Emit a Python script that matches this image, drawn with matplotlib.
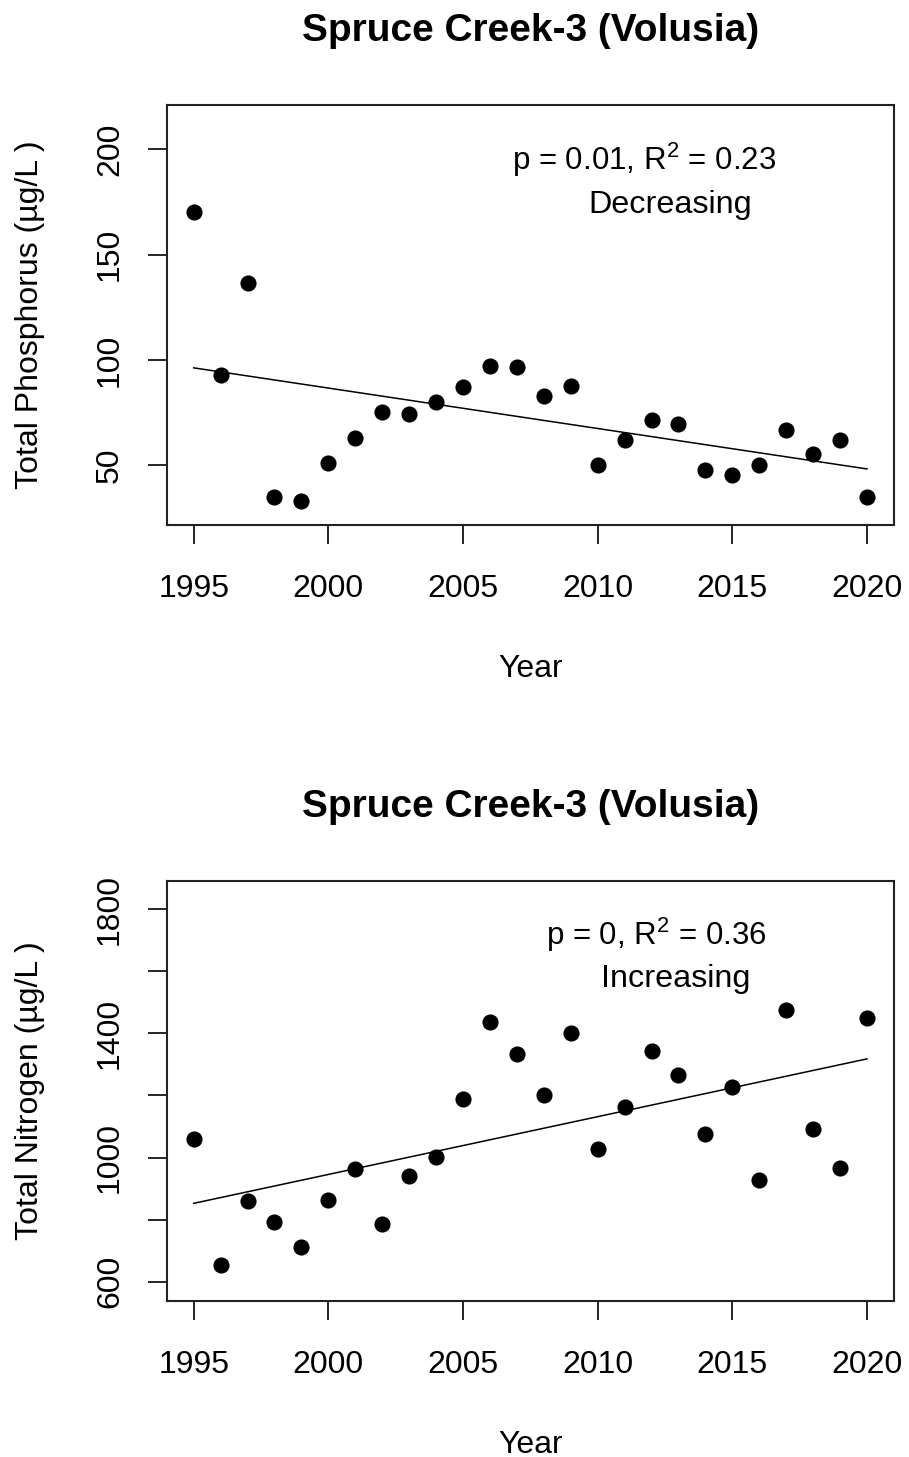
import numpy as np
import matplotlib.pyplot as plt

plt.rcParams['font.family'] = ['Liberation Sans', 'DejaVu Sans']
plt.rcParams['mathtext.fontset'] = 'custom'
plt.rcParams['mathtext.rm'] = 'Liberation Sans'

years = list(range(1995, 2021))

# total phosphorus, ug/L
tp = [170.1, 92.7, 136.6, 35.2, 33.2, 51.3, 63.0, 75.2, 74.4, 80.2,
      87.1, 97.3, 96.5, 83.1, 87.8, 50.4, 62.1, 71.6, 69.7, 47.7,
      45.6, 50.4, 66.8, 55.5, 62.1, 35.2]

# total nitrogen, ug/L
tn = [1059, 654, 861, 791, 713, 863, 962, 786, 942, 1001,
      1189, 1436, 1333, 1202, 1402, 1027, 1163, 1343, 1267, 1077,
      1227, 928, 1476, 1091, 967, 1451]

title = 'Spruce Creek-3 (Volusia)'
tp_stats = r'p = 0.01, R$^{2}$ = 0.23'
tn_stats = r'p = 0, R$^{2}$ = 0.36'

FS = 22


def draw_panel(ax, y, ylabel, yticks, ylabels, ylim, stats, trend, txt_pos):
    x = np.array(years)
    ax.scatter(x, y, s=135, color='black', zorder=3, linewidths=0)
    b, a = np.polyfit(x, y, 1)
    xl = np.array([x[0], x[-1]])
    ax.plot(xl, a + b * xl, color='black', lw=1.1)

    ax.set_xlim(1994, 2021)
    ax.set_ylim(*ylim)
    ax.set_xticks(range(1995, 2021, 5))
    ax.set_yticks(yticks)
    ax.set_yticklabels(ylabels, rotation=90, va='center')
    ax.tick_params(axis='both', length=14, width=1.2, labelsize=FS + 1)
    ax.tick_params(axis='x', pad=21)
    ax.tick_params(axis='y', pad=16)
    for s in ax.spines.values():
        s.set_linewidth(1.5)
        s.set_color('#222222')

    ax.set_title(title, fontsize=28, fontweight='bold', pad=46)
    ax.set_xlabel('Year', fontsize=FS + 1, labelpad=36)
    ax.set_ylabel(ylabel, fontsize=FS + 1, labelpad=36)

    (x1, y1), (x2, y2) = txt_pos
    ax.text(x1, y1, stats, fontsize=FS + 0.5, ha='center', va='center')
    ax.text(x2, y2, trend, fontsize=FS + 1.3, ha='center', va='center')


fig = plt.figure(figsize=(9.09, 14.57), dpi=100)
ax1 = fig.add_axes([0.1834, 0.6397, 0.800, 0.2883])
ax2 = fig.add_axes([0.1834, 0.1071, 0.800, 0.2883])

draw_panel(ax1, tp, 'Total Phosphorus (\u00b5g/L )', [50, 100, 150, 200],
           ['50', '100', '150', '200'], (21.8, 221.0), tp_stats, 'Decreasing',
           [(2011.72, 194.8), (2012.70, 173.4)])

draw_panel(ax2, tn, 'Total Nitrogen (\u00b5g/L )', list(range(600, 1801, 200)),
           ['600', '', '1000', '', '1400', '', '1800'], (538, 1891),
           tn_stats, 'Increasing',
           [(2012.19, 1717), (2012.89, 1574)])

fig.savefig('out.png', dpi=100)
